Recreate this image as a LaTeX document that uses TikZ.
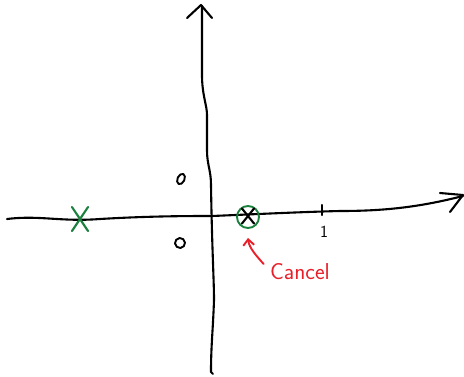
\documentclass[tikz,border=0pt]{standalone}
\usepackage{fontspec}
\usetikzlibrary{shapes.geometric,shapes.misc,arrows.meta}
\definecolor{polegreen}{RGB}{28,128,62}
\definecolor{notered}{RGB}{232,30,40}
\begin{document}
\begin{tikzpicture}[x=1pt,y=-1pt,line cap=round,line join=round,
  axis/.style={line width=2.1pt,black},
  zero/.style={ellipse,draw,line width=1.9pt,minimum width=7pt,minimum height=11pt,inner sep=0pt,rotate=-25},
  pole/.style={cross out,draw,line width=2.1pt,inner sep=0pt},
  every node/.style={font=\sffamily}]
\useasboundingbox (0,0) rectangle (464,376);
\draw[axis] (7,219) .. controls (40,215) and (60,222) .. (100,219) .. controls (150,216) and (190,216) .. (212,216) .. controls (260,214) and (300,212) .. (340,211) .. controls (385,211) and (420,207) .. (463,196);
\draw[axis] (440,193) -- (463,195) -- (450,212);
\draw[axis] (202,6) -- (202,75) .. controls (202,95) and (207,105) .. (207,115) -- (207,150) .. controls (207,165) and (211,170) .. (211,185) .. controls (212,250) and (214,280) .. (214,300) .. controls (213,330) and (211,345) .. (211,372) -- (213,374);
\draw[axis] (187,18) -- (201,5) -- (212,18);
\draw[axis] (322,205) -- (322,215);
\node[font=\sffamily\fontsize{17}{20}\selectfont] (one) at (324,232) {1};
\node[zero] (z1) at (181,179) {};
\node[zero,minimum width=10pt,minimum height=10pt,rotate=-15] (z2) at (180,243) {};
\node[pole,draw=polegreen,minimum width=14pt,minimum height=22pt] (p1) at (80,219) {};
\node[circle,draw=polegreen,line width=1.9pt,minimum size=22pt,inner sep=0pt] (cz) at (248,217) {};
\node[pole,minimum width=10pt,minimum height=13pt] (cx) at (248,216) {};
\node[text=notered,font=\sffamily\fontsize{23}{26}\selectfont] (cancel) at (300,272) {Cancel};
\draw[notered,line width=1.9pt,-{Straight Barb[length=6pt,width=11pt]}] ([shift={(-3,-8)}]cancel.west) .. controls +(-7,-8) and +(1,10) .. ([yshift=-9pt]cz.south);
\end{tikzpicture}
\end{document}
